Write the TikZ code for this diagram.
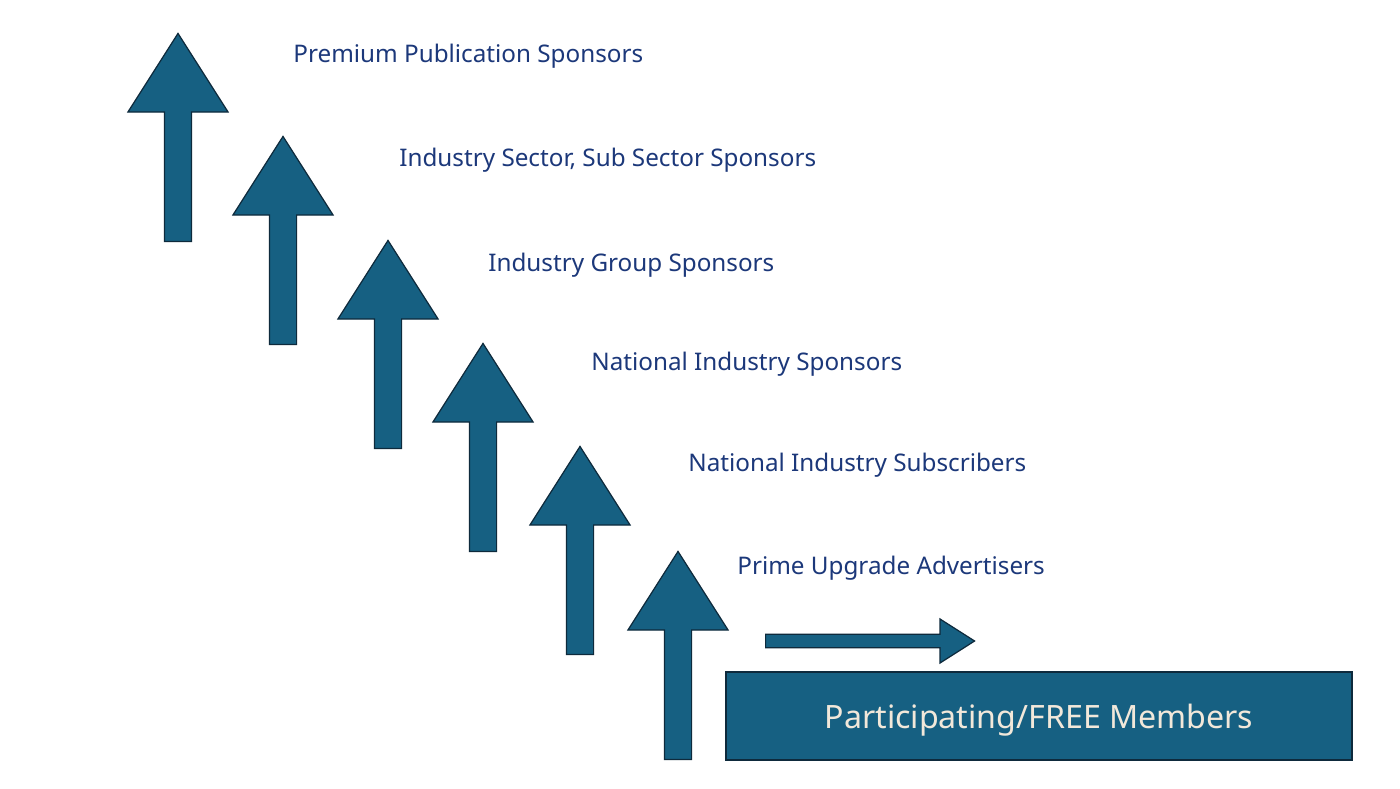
\documentclass[tikz,border=0pt]{standalone}
\usepackage{fontspec}
\setmainfont{Noto Sans}
\usetikzlibrary{shapes,arrows.meta,positioning}
\definecolor{tierTeal}{RGB}{22,96,130}
\definecolor{tierEdge}{RGB}{14,42,60}
\definecolor{tierBlue}{RGB}{28,56,122}
\definecolor{memberCream}{RGB}{242,232,218}
\tikzset{
  uparrow/.style={single arrow,rotate=90,anchor=tail,fill=tierTeal,draw=tierEdge,line width=0.7pt,
    minimum height=4.16cm,minimum width=1.98cm,single arrow head extend=0.73cm,
    single arrow tip angle=65,inner sep=0.26cm},
  tierlabel/.style={anchor=base west,inner sep=0pt,text=tierBlue,font=\fontsize{13.8}{16}\selectfont}
}
\begin{document}
\begin{tikzpicture}[x=0.02cm,y=-0.02cm]
        % Page
        \fill[white] (0,0) rectangle (1400,788);
        % Premium
        \node[uparrow] (a1) at (178,242) {};
        \node[tierlabel] (l1) at (293,62) {Premium Publication Sponsors};
        % Sector
        \node[uparrow] (a2) at (283,345) {};
        \node[tierlabel] (l2) at (399,166) {Industry Sector, Sub Sector Sponsors};
        % Group
        \node[uparrow] (a3) at (388,449) {};
        \node[tierlabel] (l3) at (488,271) {Industry Group Sponsors};
        % National sponsors
        \node[uparrow] (a4) at (483,552) {};
        \node[tierlabel] (l4) at (591,370) {National Industry Sponsors};
        % Subscribers
        \node[uparrow] (a5) at (580,655) {};
        \node[tierlabel] (l5) at (688,471) {National Industry Subscribers};
        % Prime
        \node[uparrow] (a6) at (678,760) {};
        \node[tierlabel] (l6) at (737,574) {Prime Upgrade Advertisers};
        % Way in
        \node[single arrow,anchor=tail,fill=tierTeal,draw=tierEdge,line width=0.7pt,minimum height=4.18cm,
          minimum width=0.88cm,single arrow tip angle=65,inner sep=0.1cm] (wayin) at (765,641) {};
        % Members
        \node[rectangle,fill=tierTeal,draw=tierEdge,line width=0.9pt,minimum width=12.52cm,
          minimum height=1.76cm,text depth=0pt,text=memberCream,font=\fontsize{18.3}{22}\selectfont] (free) at (1039,716) {Participating/FREE Members};
      \end{tikzpicture}
\end{document}
